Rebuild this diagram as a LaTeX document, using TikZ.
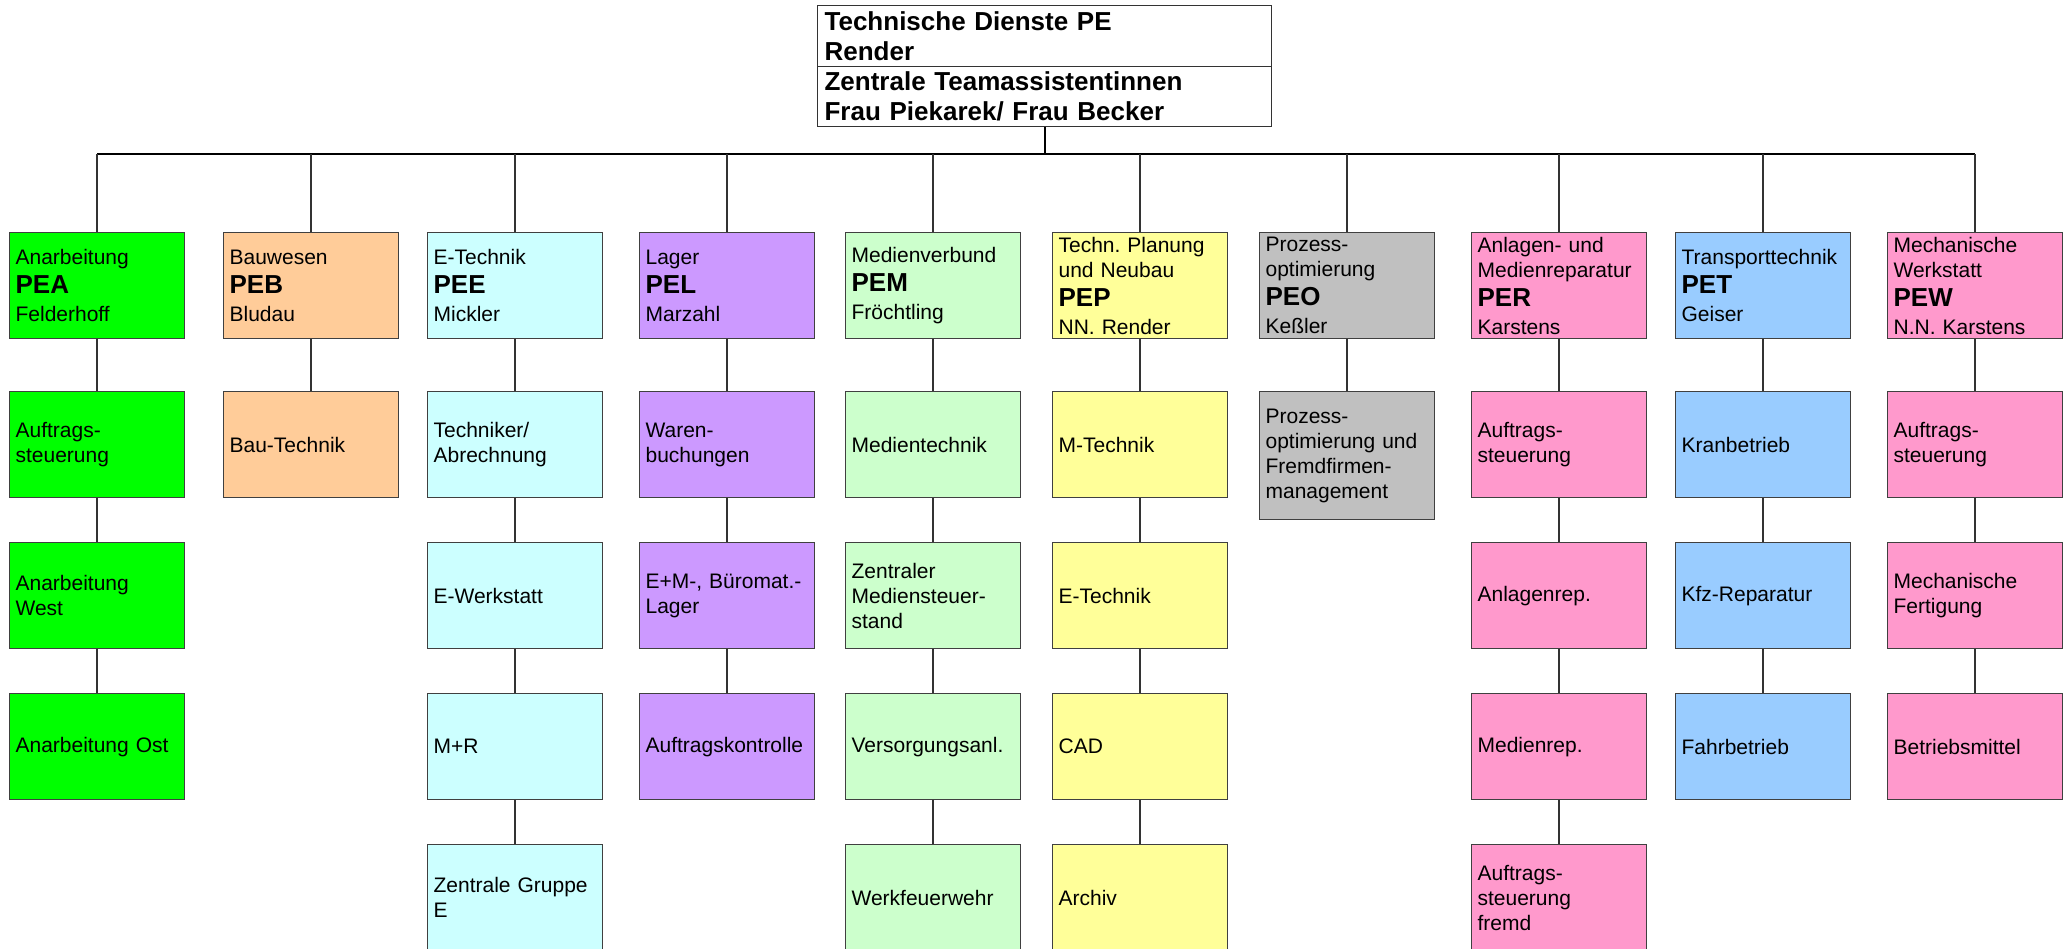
\documentclass[tikz,border=0pt]{standalone}
\usepackage{fontspec}
\setmainfont{Liberation Sans}
\frenchspacing
\definecolor{cGreen}{HTML}{00FF00}
\definecolor{cPeach}{HTML}{FFCC99}
\definecolor{cCyan}{HTML}{CCFFFF}
\definecolor{cLav}{HTML}{CC99FF}
\definecolor{cLGreen}{HTML}{CCFFCC}
\definecolor{cYellow}{HTML}{FFFF99}
\definecolor{cGray}{HTML}{C0C0C0}
\definecolor{cPink}{HTML}{FF99CC}
\definecolor{cBlue}{HTML}{99CCFF}
\newcommand\hd[1]{\\[4pt]{\fontsize{26}{26}\selectfont\bfseries #1}\\[3pt]}
\tikzset{
  box/.style={draw=black!75, line width=1.2pt, anchor=north west,
    minimum width=175pt, minimum height=106pt, text width=163pt,
    inner xsep=6pt, inner ysep=0pt, align=left,
    font=\fontsize{21}{25}\selectfont\frenchspacing},
  topbox/.style={draw=black!80, line width=1.2pt, anchor=north west,
    minimum width=454pt, text width=440pt, inner xsep=7pt, inner ysep=0pt,
    align=left, font=\fontsize{26}{30}\selectfont\bfseries},
  conn/.style={line width=1.3pt, draw=black!80},
  bus/.style={line width=2pt, draw=black},
}
\begin{document}
\begin{tikzpicture}[x=1pt,y=-1pt]
\useasboundingbox[fill=white] (0,0) rectangle (2064,949);
% top
\node[topbox, minimum height=61pt] (top) at (817,5) {Technische Dienste PE\\Render};
\node[topbox, minimum height=60pt] (team) at (817,66) {Zentrale Teamassistentinnen\\Frau Piekarek/ Frau Becker};
% column 1 PEA
\node[box, fill=cGreen] (c1r1) at (9,232) {Anarbeitung\hd{PEA}Felderhoff};
\node[box, fill=cGreen] (c1r2) at (9,391) {Auftrags-\\steuerung};
\node[box, fill=cGreen] (c1r3) at (9,542) {Anarbeitung\\West};
\node[box, fill=cGreen] (c1r4) at (9,693) {Anarbeitung Ost};
% column 2 PEB
\node[box, fill=cPeach] (c2r1) at (223,232) {Bauwesen\hd{PEB}Bludau};
\node[box, fill=cPeach] (c2r2) at (223,391) {Bau-Technik};
% column 3 PEE
\node[box, fill=cCyan] (c3r1) at (427,232) {E-Technik\hd{PEE}Mickler};
\node[box, fill=cCyan] (c3r2) at (427,391) {Techniker/\\Abrechnung};
\node[box, fill=cCyan] (c3r3) at (427,542) {E-Werkstatt};
\node[box, fill=cCyan] (c3r4) at (427,693) {M+R};
\node[box, fill=cCyan] (c3r5) at (427,844) {Zentrale Gruppe\\E};
% column 4 PEL
\node[box, fill=cLav] (c4r1) at (639,232) {Lager\hd{PEL}Marzahl};
\node[box, fill=cLav] (c4r2) at (639,391) {Waren-\\buchungen};
\node[box, fill=cLav] (c4r3) at (639,542) {E+M-, Büromat.-\\Lager};
\node[box, fill=cLav] (c4r4) at (639,693) {Auftragskontrolle};
% column 5 PEM
\node[box, fill=cLGreen] (c5r1) at (845,232) {Medienverbund\hd{PEM}Fröchtling};
\node[box, fill=cLGreen] (c5r2) at (845,391) {Medientechnik};
\node[box, fill=cLGreen] (c5r3) at (845,542) {Zentraler\\Mediensteuer-\\stand};
\node[box, fill=cLGreen] (c5r4) at (845,693) {Versorgungsanl.};
\node[box, fill=cLGreen] (c5r5) at (845,844) {Werkfeuerwehr};
% column 6 PEP
\node[box, fill=cYellow] (c6r1) at (1052,232) {Techn. Planung\\und Neubau\hd{PEP}NN. Render};
\node[box, fill=cYellow] (c6r2) at (1052,391) {M-Technik};
\node[box, fill=cYellow] (c6r3) at (1052,542) {E-Technik};
\node[box, fill=cYellow] (c6r4) at (1052,693) {CAD};
\node[box, fill=cYellow] (c6r5) at (1052,844) {Archiv};
% column 7 PEO
\node[box, fill=cGray] (c7r1) at (1259,232) {Prozess-\\optimierung\hd{PEO}Keßler};
\node[box, fill=cGray, minimum height=128pt] (c7r2) at (1259,391) {Prozess-\\optimierung und\\Fremdfirmen-\\management};
% column 8 PER
\node[box, fill=cPink] (c8r1) at (1471,232) {Anlagen- und\\Medienreparatur\hd{PER}Karstens};
\node[box, fill=cPink] (c8r2) at (1471,391) {Auftrags-\\steuerung};
\node[box, fill=cPink] (c8r3) at (1471,542) {Anlagenrep.};
\node[box, fill=cPink] (c8r4) at (1471,693) {Medienrep.};
\node[box, fill=cPink] (c8r5) at (1471,844) {Auftrags-\\steuerung\\fremd};
% column 9 PET
\node[box, fill=cBlue] (c9r1) at (1675,232) {Transporttechnik\hd{PET}Geiser};
\node[box, fill=cBlue] (c9r2) at (1675,391) {Kranbetrieb};
\node[box, fill=cBlue] (c9r3) at (1675,542) {Kfz-Reparatur};
\node[box, fill=cBlue] (c9r4) at (1675,693) {Fahrbetrieb};
% column 10 PEW
\node[box, fill=cPink] (c10r1) at (1887,232) {Mechanische\\Werkstatt\hd{PEW}N.N. Karstens};
\node[box, fill=cPink] (c10r2) at (1887,391) {Auftrags-\\steuerung};
\node[box, fill=cPink] (c10r3) at (1887,542) {Mechanische\\Fertigung};
\node[box, fill=cPink] (c10r4) at (1887,693) {Betriebsmittel};
% bus
\coordinate (busL) at (c1r1.north |- 0,154.5);
\coordinate (busR) at (c10r1.north |- 0,154.5);
\draw[bus] (busL) -- (busR);
\draw[bus] (team.south) -- (team.south |- busL);
\foreach \c in {1,...,10}{
  \draw[conn] (c\c r1.north) -- (c\c r1.north |- busL);
}
% column connectors
\draw[conn] (c1r1.south) -- (c1r2.north);
\draw[conn] (c1r2.south) -- (c1r3.north);
\draw[conn] (c1r3.south) -- (c1r4.north);
\draw[conn] (c2r1.south) -- (c2r2.north);
\draw[conn] (c3r1.south) -- (c3r2.north);
\draw[conn] (c3r2.south) -- (c3r3.north);
\draw[conn] (c3r3.south) -- (c3r4.north);
\draw[conn] (c3r4.south) -- (c3r5.north);
\draw[conn] (c4r1.south) -- (c4r2.north);
\draw[conn] (c4r2.south) -- (c4r3.north);
\draw[conn] (c4r3.south) -- (c4r4.north);
\draw[conn] (c5r1.south) -- (c5r2.north);
\draw[conn] (c5r2.south) -- (c5r3.north);
\draw[conn] (c5r3.south) -- (c5r4.north);
\draw[conn] (c5r4.south) -- (c5r5.north);
\draw[conn] (c6r1.south) -- (c6r2.north);
\draw[conn] (c6r2.south) -- (c6r3.north);
\draw[conn] (c6r3.south) -- (c6r4.north);
\draw[conn] (c6r4.south) -- (c6r5.north);
\draw[conn] (c7r1.south) -- (c7r2.north);
\draw[conn] (c8r1.south) -- (c8r2.north);
\draw[conn] (c8r2.south) -- (c8r3.north);
\draw[conn] (c8r3.south) -- (c8r4.north);
\draw[conn] (c8r4.south) -- (c8r5.north);
\draw[conn] (c9r1.south) -- (c9r2.north);
\draw[conn] (c9r2.south) -- (c9r3.north);
\draw[conn] (c9r3.south) -- (c9r4.north);
\draw[conn] (c10r1.south) -- (c10r2.north);
\draw[conn] (c10r2.south) -- (c10r3.north);
\draw[conn] (c10r3.south) -- (c10r4.north);
\end{tikzpicture}
\end{document}
